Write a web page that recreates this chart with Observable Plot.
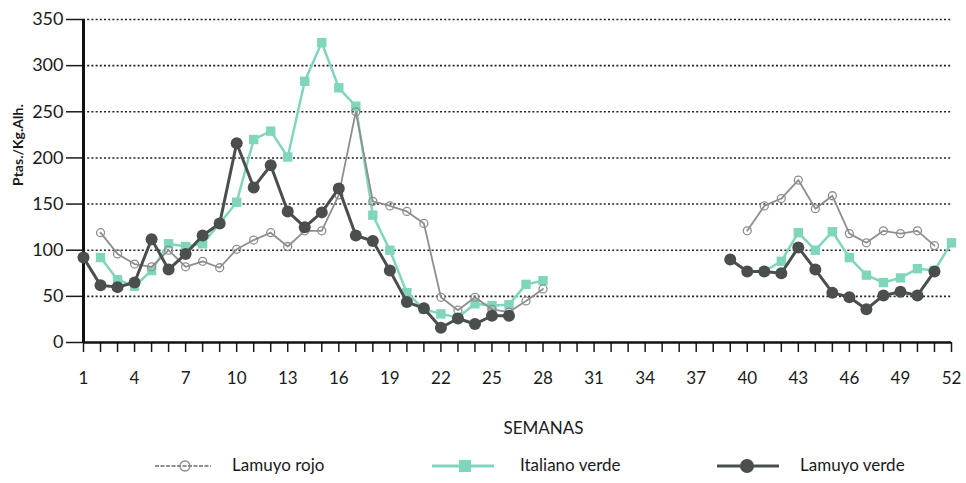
<!DOCTYPE html>
<html>
<head>
<meta charset="utf-8">
<script src="https://cdn.jsdelivr.net/npm/d3@7"></script>
<script src="https://cdn.jsdelivr.net/npm/@observablehq/plot@0.6"></script>
<style>
  body { margin: 0; background: #fff; font-family: Lato, "Open Sans", sans-serif; }
  #chart svg { display: block; }
  #legend { position: relative; width: 966px; height: 38px; font-size: 17px; color: #1a1a1a; }
  #legend .sw { position: absolute; top: 11px; }
  #legend .lb { position: absolute; top: 10px; line-height: 20px; }
</style>
</head>
<body>
<div id="chart"></div>
<div id="legend"></div>
<script>
const weeks = d3.range(1, 53);
const xTickLabels = d3.range(1, 53, 3);
const yTicks = [0, 50, 100, 150, 200, 250, 300, 350];

// Ptas./Kg. by week (null = no quotation)
const lamuyoRojo = [
  null, 119, 96, 85, 82, 100, 82, 88, 81, 101,
  111, 119, 104, 121, 121, 160, 250, 153, 148, 142,
  129, 49, 35, 49, 36, 33, 45, 58, null, null,
  null, null, null, null, null, null, null, null, null, 121,
  148, 156, 176, 145, 159, 118, 108, 121, 118, 121,
  105, null
];
const italianoVerde = [
  null, 92, 68, 61, 78, 107, 104, 107, 129, 152,
  220, 229, 201, 283, 325, 276, 256, 138, 100, 54,
  36, 31, 27, 42, 40, 41, 63, 67, null, null,
  null, null, null, null, null, null, null, null, null, null,
  77, 88, 119, 100, 120, 92, 73, 65, 70, 80,
  78, 108
];
const lamuyoVerde = [
  92, 62, 60, 65, 112, 79, 96, 116, 129, 216,
  168, 192, 142, 125, 141, 167, 116, 110, 78, 44,
  37, 16, 26, 20, 29, 29, null, null, null, null,
  null, null, null, null, null, null, null, null, 90, 77,
  77, 75, 103, 79, 54, 49, 36, 51, 55, 51,
  77, null
];

const seriesNames = ["Lamuyo rojo", "Italiano verde", "Lamuyo verde"];
const seriesValues = [lamuyoRojo, italianoVerde, lamuyoVerde];

const rows = [];
seriesNames.forEach((name, k) => {
  seriesValues[k].forEach((v, i) => {
    if (v != null) rows.push({ week: weeks[i], value: v, series: name, seg: weeks[i] < 35 ? 0 : 1 });
  });
});
const of = name => rows.filter(d => d.series === name);

const cRojo = "#8e8e8e", cItal = "#80d6bd", cVerde = "#4a4f4d";

const chart = Plot.plot({
  width: 966,
  height: 445,
  marginLeft: 83,
  marginRight: 15,
  marginTop: 19,
  marginBottom: 103,
  style: { fontFamily: "Lato, 'Open Sans', sans-serif", color: "#1a1a1a", background: "#fff" },
  x: { domain: [1, 52] },
  y: { domain: [0, 350] },
  marks: [
    Plot.ruleY(yTicks.filter(d => d > 0), { stroke: "#222", strokeWidth: 1.6, strokeDasharray: "2,2.2" }),
    Plot.axisY({ ticks: yTicks, tickSize: 17, tickPadding: 3, fontSize: 18, label: null, strokeWidth: 1.5 }),
    Plot.axisX({ ticks: weeks, tickSize: 10, tickFormat: () => "", label: null, strokeWidth: 1.5 }),
    Plot.axisX({ ticks: xTickLabels, tickSize: 0, tickPadding: 29, fontSize: 17, label: null }),
    Plot.ruleY([0], { stroke: "#111", strokeWidth: 2.5 }),
    Plot.ruleX([1], { stroke: "#111", strokeWidth: 3 }),
    Plot.line(of("Italiano verde"), { x: "week", y: "value", z: "seg", stroke: cItal, strokeWidth: 2.5 }),
    Plot.dot(of("Italiano verde"), { x: "week", y: "value", symbol: "square", r: 5.3, fill: cItal }),
    Plot.line(of("Lamuyo rojo"), { x: "week", y: "value", z: "seg", stroke: cRojo, strokeWidth: 1.8 }),
    Plot.dot(of("Lamuyo rojo"), { x: "week", y: "value", symbol: "circle", r: 4, fill: "none", stroke: cRojo, strokeWidth: 1.3 }),
    Plot.line(of("Lamuyo verde"), { x: "week", y: "value", z: "seg", stroke: cVerde, strokeWidth: 3 }),
    Plot.dot(of("Lamuyo verde"), { x: "week", y: "value", symbol: "circle", r: 6, fill: cVerde }),
    Plot.text(["Ptas./Kg.Alh."], { text: d => d, frameAnchor: "left", dx: -65, dy: 5, rotate: -90, fontWeight: "bold", fontSize: 14, fill: "#1a1a1a" }),
    Plot.text(["SEMANAS"], { text: d => d, frameAnchor: "bottom", dy: 91, dx: 26, fontSize: 17, fill: "#1a1a1a" })
  ]
});
document.getElementById("chart").appendChild(chart);

// Legend
const legendItems = [
  { name: seriesNames[0], color: cRojo, symbol: "openCircle", sx: 155, tx: 232 },
  { name: seriesNames[1], color: cItal, symbol: "square", sx: 432, tx: 520 },
  { name: seriesNames[2], color: cVerde, symbol: "circle", sx: 717, tx: 800 }
];
const legend = d3.select("#legend");
legendItems.forEach(it => {
  const svg = legend.append("svg").attr("class", "sw").attr("width", 62).attr("height", 20)
    .style("left", it.sx + "px");
  if (it.symbol === "openCircle") {
    svg.append("line").attr("x1", 0).attr("x2", 56).attr("y1", 10).attr("y2", 10)
      .attr("stroke", it.color).attr("stroke-width", 1.8).attr("stroke-dasharray", "4,1.5");
    svg.append("circle").attr("cx", 30).attr("cy", 10).attr("r", 5).attr("fill", "none")
      .attr("stroke", it.color).attr("stroke-width", 1.3);
  } else if (it.symbol === "square") {
    svg.append("line").attr("x1", 0).attr("x2", 62).attr("y1", 10).attr("y2", 10)
      .attr("stroke", it.color).attr("stroke-width", 3);
    svg.append("rect").attr("x", 27).attr("y", 4).attr("width", 12).attr("height", 12).attr("fill", it.color);
  } else {
    svg.append("line").attr("x1", 0).attr("x2", 62).attr("y1", 10).attr("y2", 10)
      .attr("stroke", it.color).attr("stroke-width", 3);
    svg.append("circle").attr("cx", 30).attr("cy", 10).attr("r", 7).attr("fill", it.color);
  }
  legend.append("div").attr("class", "lb").style("left", it.tx + "px").text(it.name);
});
</script>
</body>
</html>
